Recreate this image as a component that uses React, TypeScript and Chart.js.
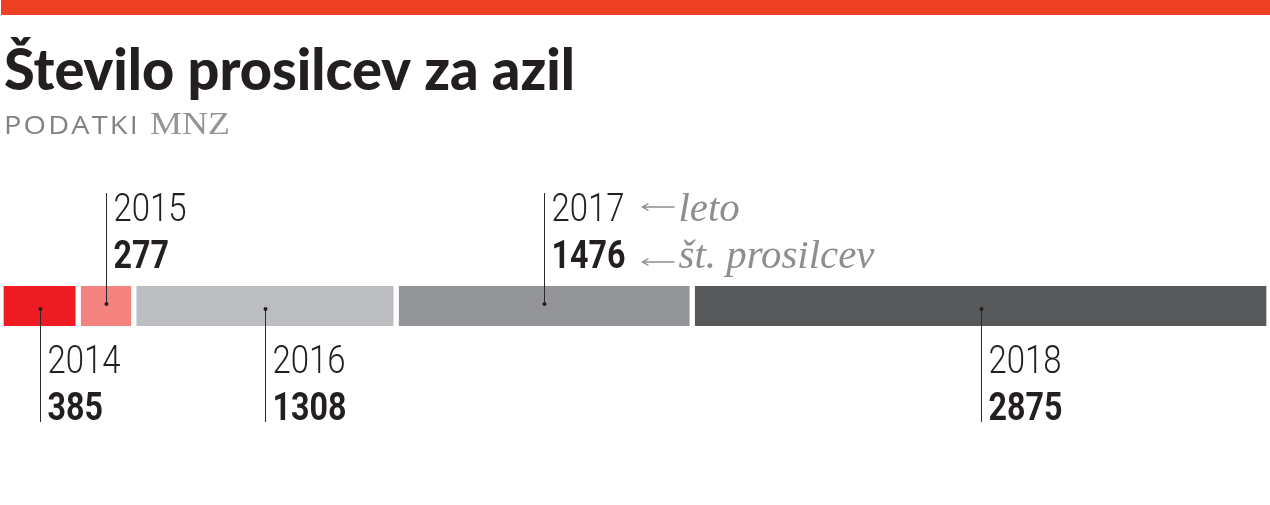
import React, { useEffect, useRef } from 'react';
import { Chart, registerables } from 'chart.js';

Chart.register(...registerables);

// ---- data ----
const years = ['2014', '2015', '2016', '2017', '2018'];
const applicants = [385, 277, 1308, 1476, 2875];
const segmentColors = ['#ED1C24', '#F4837F', '#BCBDC0', '#939598', '#58595B'];
const labelSides = ['below', 'above', 'below', 'above', 'below'];
const titleText = 'Število prosilcev za azil';
const sourceLabel = 'PODATKI';
const sourceName = 'MNZ';
const legendYearText = 'leto';
const legendCountText = 'št. prosilcev';
const legendSegment = '2017';

const total = applicants.reduce((a, b) => a + b, 0);

const W = 1270;
const H = 505;

function drawFitted(ctx: CanvasRenderingContext2D, text: string, x: number, y: number, font: string, color: string, sx: number, spacing = '0px') {
  ctx.save();
  ctx.font = font;
  (ctx as any).letterSpacing = spacing;
  ctx.fillStyle = color;
  ctx.textBaseline = 'alphabetic';
  ctx.textAlign = 'left';
  ctx.translate(x, y);
  ctx.scale(sx, 1);
  ctx.fillText(text, 0, 0);
  ctx.restore();
}

function scaleFor(ctx: CanvasRenderingContext2D, text: string, font: string, width: number, spacing = '0px') {
  ctx.save();
  ctx.font = font;
  (ctx as any).letterSpacing = spacing;
  const w = ctx.measureText(text).width;
  ctx.restore();
  return w > 0 ? width / w : 1;
}

const decorPlugin = {
  id: 'decor',
  afterDraw(chart: any) {
    const ctx: CanvasRenderingContext2D = chart.ctx;
    // top stripe
    ctx.save();
    ctx.fillStyle = '#EE4123';
    ctx.fillRect(1, 0, W - 1, 15);
    ctx.restore();

    // title
    const titleFont = '900 58px Lato';
    drawFitted(ctx, titleText, 4, 90, titleFont, '#231F20', scaleFor(ctx, titleText, titleFont, 571));

    // source
    const srcFont = '26px "Open Sans"';
    drawFitted(ctx, sourceLabel, 4, 134, srcFont, '#808285', scaleFor(ctx, sourceLabel, srcFont, 136, '2px'), '2px');
    const mnzFont = '32px "Liberation Serif"';
    drawFitted(ctx, sourceName, 150, 134, mnzFont, '#939598', scaleFor(ctx, sourceName, mnzFont, 80));

    // labels
    const yearFont = '300 38px Roboto';
    const valFont = 'bold 38px Roboto';
    const ySx = scaleFor(ctx, '2015', yearFont, 73);
    const vSx = scaleFor(ctx, '1476', valFont, 74);
    const ink = '#231F20';

    years.forEach((yr, i) => {
      const meta = chart.getDatasetMeta(i);
      const bar: any = meta.data[0];
      if (!bar) return;
      const cx = Math.round((bar.x + bar.base) / 2) + 0.5;
      const cy = bar.y;
      const up = labelSides[i] === 'above';
      const dotY = up ? cy - 2 : cy + 3;
      ctx.save();
      ctx.strokeStyle = '#2B2B2B';
      ctx.lineWidth = 1;
      ctx.beginPath();
      ctx.moveTo(cx, dotY);
      ctx.lineTo(cx, up ? 193 : 422);
      ctx.stroke();
      ctx.fillStyle = '#231F20';
      ctx.beginPath();
      ctx.arc(cx, dotY, 2, 0, Math.PI * 2);
      ctx.fill();
      ctx.restore();

      const tx = cx + 7;
      const yBase = up ? 221 : 373;
      const vBase = up ? 268 : 420;
      drawFitted(ctx, yr, tx, yBase, yearFont, ink, ySx);
      drawFitted(ctx, String(applicants[i]), tx, vBase, valFont, ink, vSx);

      if (yr === legendSegment) {
        const grey = '#8C8E90';
        const ax0 = tx + 91;
        const ax1 = ax0 + 32;
        [207, 262].forEach((ay) => {
          ctx.save();
          ctx.strokeStyle = grey;
          ctx.lineWidth = 1.4;
          ctx.beginPath();
          ctx.moveTo(ax0, ay);
          ctx.lineTo(ax1, ay);
          ctx.moveTo(ax0 + 6, ay - 3.5);
          ctx.lineTo(ax0, ay);
          ctx.lineTo(ax0 + 6, ay + 3.5);
          ctx.stroke();
          ctx.restore();
        });
        const hintFont = 'italic 40px "Liberation Serif"';
        const hSx = scaleFor(ctx, legendCountText, hintFont, 196);
        drawFitted(ctx, legendYearText, ax1 + 4, 221, hintFont, grey, hSx);
        drawFitted(ctx, legendCountText, ax1 + 4, 268, hintFont, grey, hSx);
      }
    });
  },
};

export default function App() {
  const ref = useRef<HTMLCanvasElement | null>(null);
  useEffect(() => {
    if (!ref.current) return;
    const chart = new Chart(ref.current, {
      type: 'bar',
      data: {
        labels: [''],
        datasets: years.map((yr, i) => ({
          label: yr,
          data: [applicants[i]],
          backgroundColor: segmentColors[i],
          borderColor: '#FFFFFF',
          borderWidth: { top: 0, bottom: 0, left: 3, right: 3 },
          borderSkipped: false,
          barPercentage: 1,
          categoryPercentage: 1,
        })),
      },
      options: {
        indexAxis: 'y',
        responsive: false,
        maintainAspectRatio: false,
        animation: false,
        layout: { padding: { top: 286, bottom: H - 326, left: 1, right: 1 } },
        plugins: { legend: { display: false }, tooltip: { enabled: false }, title: { display: false } },
        scales: {
          x: { display: false, stacked: true, min: 0, max: total },
          y: { display: false, stacked: true },
        },
      },
      plugins: [decorPlugin],
    } as any);
    return () => chart.destroy();
  }, []);
  return (
    <div style={{ position: 'fixed', left: 0, top: 0, width: W, height: H, background: '#fff' }}>
      <canvas ref={ref} width={W} height={H} style={{ width: W, height: H, display: 'block' }} />
    </div>
  );
}
